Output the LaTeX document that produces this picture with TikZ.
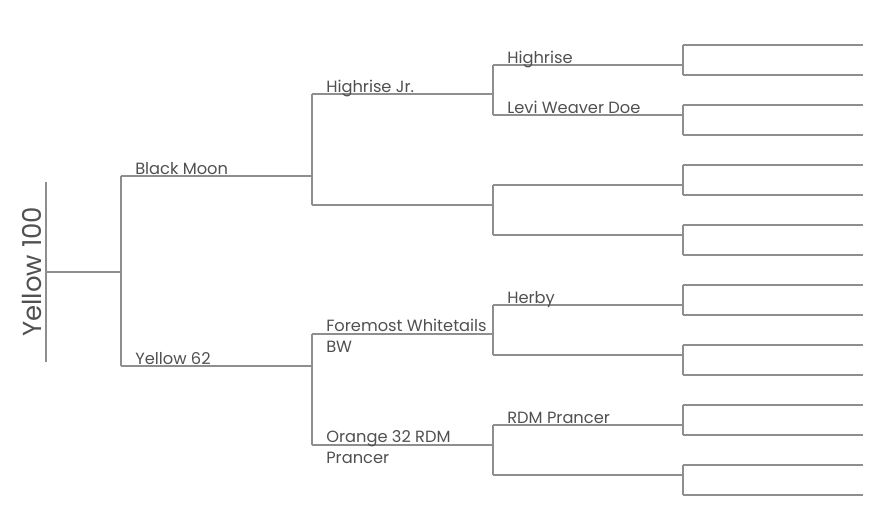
\documentclass[tikz,border=0pt]{standalone}
\usepackage{fontspec}
\setmainfont{Poppins}
\definecolor{linegray}{HTML}{8E8E8E}
\definecolor{textgray}{HTML}{505050}
\begin{document}
\begin{tikzpicture}[x=0.75pt,y=-0.75pt,
  ln/.style={draw=linegray,line width=0.9pt},
  lbl/.style={anchor=base west,inner sep=0pt,text=textgray,font=\fontsize{12.2}{14}\selectfont},
  rootlbl/.style={anchor=base,inner sep=0pt,rotate=90,text=textgray,font=\fontsize{19.5}{24}\selectfont}]
\useasboundingbox (0,0) rectangle (884,526);
% root
\node[rootlbl] (root) at (41,272) {Yellow 100};
\coordinate (r1) at (46,182); \coordinate (r2) at (46,362); \coordinate (rm) at (46,272);
\coordinate (g1m) at (121,272); \coordinate (g1a) at (121,176); \coordinate (g1b) at (121,366);
\draw[ln] (r1) -- (r2);
\draw[ln] (rm) -- (g1m);
\draw[ln] (g1a) -- (g1b);
% generation 1
\coordinate (s1) at (312,176); \coordinate (s2) at (312,366);
\draw[ln] (g1a) -- (s1);
\draw[ln] (g1b) -- (s2);
\node[lbl] (bm) at (135,174) {Black Moon};
\node[lbl] (y62) at (135,364) {Yellow 62};
% generation 2
\coordinate (a1) at (312,94); \coordinate (a2) at (312,205);
\coordinate (a3) at (312,334); \coordinate (a4) at (312,445);
\draw[ln] (a1) -- (a2);
\draw[ln] (a3) -- (a4);
\foreach \y/\n in {94/b1,205/b2,334/b3,445/b4}{
  \coordinate (\n) at (493,\y);
}
\draw[ln] (a1) -- (b1);
\draw[ln] (a2) -- (b2);
\draw[ln] (a3) -- (b3);
\draw[ln] (a4) -- (b4);
\node[lbl] (hj) at (326,92) {Highrise Jr.};
\node[lbl] (fw1) at (326,331.5) {Foremost Whitetails};
\node[lbl] (fw2) at (326,352) {BW};
\node[lbl] (or1) at (326,442) {Orange 32 RDM};
\node[lbl] (or2) at (326,463) {Prancer};
% generation 3
\foreach \t/\b/\n in {65/115/c1,185/235/c2,305/355/c3,425/475/c4}{
  \coordinate (\n t) at (493,\t); \coordinate (\n b) at (493,\b);
  \coordinate (\n tr) at (683,\t); \coordinate (\n br) at (683,\b);
  \draw[ln] (\n t) -- (\n b);
  \draw[ln] (\n t) -- (\n tr);
  \draw[ln] (\n b) -- (\n br);
}
\node[lbl] (hr) at (507,63) {Highrise};
\node[lbl] (lw) at (507,113) {Levi Weaver Doe};
\node[lbl] (hb) at (507,303) {Herby};
\node[lbl] (rp) at (507,423) {RDM Prancer};
% generation 4
\foreach \t/\b/\n in {45/75/d1,105/135/d2,165/195/d3,225/255/d4,285/315/d5,345/375/d6,405/435/d7,465/495/d8}{
  \coordinate (\n t) at (683,\t); \coordinate (\n b) at (683,\b);
  \coordinate (\n tr) at (863,\t); \coordinate (\n br) at (863,\b);
  \draw[ln] (\n t) -- (\n b);
  \draw[ln] (\n t) -- (\n tr);
  \draw[ln] (\n b) -- (\n br);
}
\end{tikzpicture}
\end{document}
